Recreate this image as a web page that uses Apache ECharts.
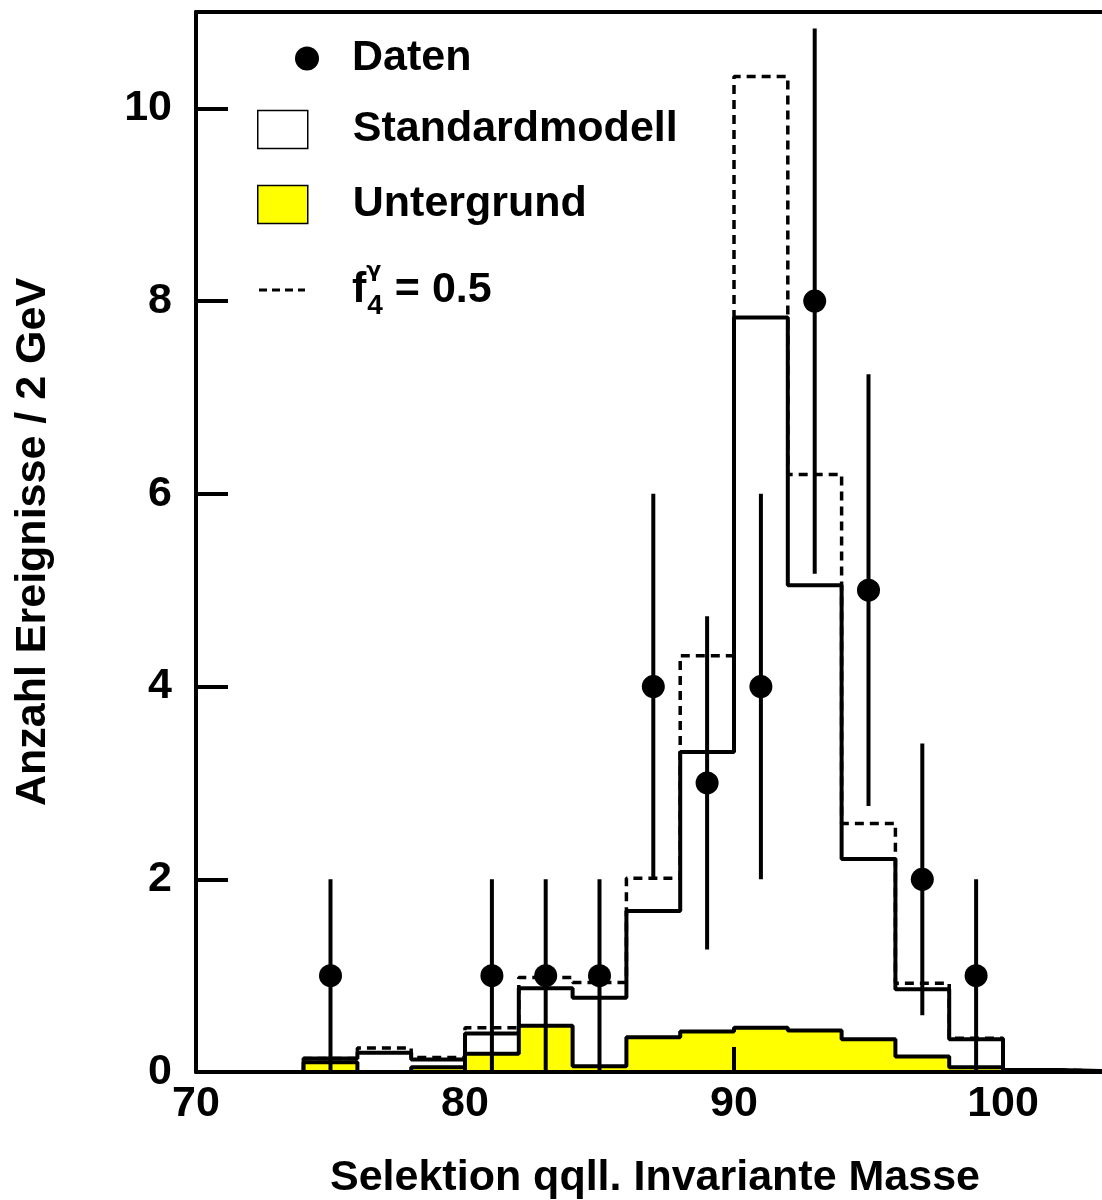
<!DOCTYPE html>
<html>
<head>
<meta charset="utf-8">
<script src="https://cdn.jsdelivr.net/npm/echarts@6/dist/echarts.min.js"></script>
<style>
  html, body { margin: 0; background: #fff; }
  #chart { width: 1102px; height: 1200px; }
</style>
</head>
<body>
<div id="chart"></div>
<script>
// bin edges in GeV (2 GeV bins)
const binEdges = [70, 72, 74, 76, 78, 80, 82, 84, 86, 88, 90, 92, 94, 96, 98, 100, 102, 104];
// Standardmodell (solid), f4 = 0.5 (dashed), Untergrund (yellow)
const smValues  = [0, 0, 0.14, 0.20, 0.13, 0.40, 0.87, 0.77, 1.67, 3.32, 7.83, 5.05, 2.21, 0.86, 0.34, 0.02, 0.01];
const f4Values  = [0, 0, 0.14, 0.25, 0.15, 0.46, 0.98, 0.93, 2.01, 4.32, 10.33, 6.20, 2.58, 0.92, 0.35, 0.02, 0.01];
const bkgValues = [0, 0, 0.10, 0, 0.05, 0.19, 0.48, 0.06, 0.36, 0.42, 0.46, 0.43, 0.34, 0.16, 0.05, 0, 0];
// Daten
const dataX   = [75, 81, 83, 85, 87, 89, 91, 93, 95, 97, 99];
const dataY   = [1, 1, 1, 1, 4, 3, 4, 8, 5, 2, 1];
const errLow  = [0, 0, 0, 0, 2, 1.27, 2, 5.17, 2.76, 0.59, 0];
const errHigh = [2, 2, 2, 2, 6, 4.73, 6, 10.83, 7.24, 3.41, 2];
// tick labels
const xTicks = [70, 80, 90, 100];
const yTicks = [0, 2, 4, 6, 8, 10];

const FONT = 'Liberation Sans';
const FS = 43;

function stepData(vals) {
  return binEdges.map((e, i) => [e, vals[Math.min(i, vals.length - 1)]]);
}

const chart = echarts.init(document.getElementById('chart'));

const legendCommon = {
  orient: 'vertical',
  padding: 0,
  selectedMode: false,
  textStyle: { fontFamily: FONT, fontWeight: 'bold', fontSize: FS, color: '#000' }
};

function plainRich(pad) {
  return Object.assign({}, legendCommon.textStyle, {
    rich: { t: { fontFamily: FONT, fontWeight: 'bold', fontSize: FS, padding: [0, 0, 0, pad] } }
  });
}

chart.setOption({
  animation: false,
  backgroundColor: '#fff',
  textStyle: { fontFamily: FONT, fontWeight: 'bold' },
  grid: { left: 196, right: 0, top: 12, bottom: 128, containLabel: false, outerBoundsMode: 'none' },
  legend: [
    Object.assign({}, legendCommon, {
      left: 295, top: 37, itemWidth: 24, itemHeight: 24,
      itemStyle: { color: '#000', opacity: 1 },
      data: [{ name: 'Daten', icon: 'circle' }],
      formatter: n => '{t|' + n + '}',
      textStyle: plainRich(28)
    }),
    Object.assign({}, legendCommon, {
      left: 257, top: 108, itemWidth: 50, itemHeight: 38,
      itemStyle: { color: '#fff', borderColor: '#000', borderWidth: 1.5 },
      data: [{ name: 'Standardmodell', icon: 'rect', itemStyle: { color: '#fff', borderColor: '#000', borderWidth: 1.5 } }],
      formatter: n => '{t|' + n + '}',
      textStyle: plainRich(40)
    }),
    Object.assign({}, legendCommon, {
      left: 257, top: 183, itemWidth: 50, itemHeight: 38,
      itemStyle: { color: '#ffff00', borderColor: '#000', borderWidth: 1.5 },
      data: [{ name: 'Untergrund', icon: 'rect', itemStyle: { color: '#ffff00', borderColor: '#000', borderWidth: 1.5 } }],
      formatter: n => '{t|' + n + '}',
      textStyle: plainRich(40)
    }),
    Object.assign({}, legendCommon, {
      left: 259, top: 260, itemWidth: 46, itemHeight: 4,
      itemStyle: { color: '#000', borderWidth: 0 },
      data: [{ name: 'f4', icon: 'path://M0,0h8v3h-8z M13,0h8v3h-8z M26,0h8v3h-8z M39,0h7v3h-7z' }],
      formatter: () => '{f|f}{g|γ}{s|4}{e| = 0.5}',
      textStyle: Object.assign({}, legendCommon.textStyle, {
        rich: {
          f: { fontFamily: FONT, fontWeight: 'bold', fontSize: FS, lineHeight: 60, padding: [0, 0, 0, 42], verticalAlign: 'middle' },
          g: { fontFamily: 'DejaVu Sans', fontWeight: 'bold', fontSize: 22, width: 1, verticalAlign: 'top' },
          s: { fontFamily: FONT, fontWeight: 'bold', fontSize: 28, verticalAlign: 'bottom' },
          e: { fontFamily: FONT, fontWeight: 'bold', fontSize: FS, verticalAlign: 'middle' }
        }
      })
    })
  ],
  xAxis: [
    {
      type: 'value',
      z: 10,
      min: 70, max: 103.68, interval: 10,
      name: 'Selektion qqll. Invariante Masse',
      nameLocation: 'middle',
      nameGap: 85,
      nameTextStyle: { fontFamily: FONT, fontWeight: 'bold', fontSize: FS, color: '#000', padding: [0, 0, 0, 12] },
      axisLine: { show: true, onZero: false, lineStyle: { color: '#000', width: 4 } },
      axisTick: { show: true, inside: true, length: 25, customValues: xTicks, lineStyle: { color: '#000', width: 4 } },
      axisLabel: {
        color: '#000', fontSize: FS, fontWeight: 'bold', fontFamily: FONT, margin: 11,
        customValues: xTicks,
        formatter: v => (xTicks.includes(v) ? String(v) : '')
      },
      splitLine: { show: false }
    },
    {
      // top frame line
      type: 'value',
      position: 'top',
      min: 70, max: 103.68,
      axisLine: { show: true, onZero: false, lineStyle: { color: '#000', width: 4 } },
      axisTick: { show: false },
      axisLabel: { show: false },
      splitLine: { show: false }
    }
  ],
  yAxis: {
    type: 'value',
    min: 0, max: 11, interval: 2,
    name: 'Anzahl Ereignisse / 2 GeV',
    nameLocation: 'middle',
    nameGap: 141,
    nameTextStyle: { fontFamily: FONT, fontWeight: 'bold', fontSize: FS, color: '#000' },
    axisLine: { show: true, lineStyle: { color: '#000', width: 4 } },
    axisTick: { show: true, inside: true, length: 32, customValues: yTicks, lineStyle: { color: '#000', width: 4 } },
    axisLabel: {
      color: '#000', fontSize: FS, fontWeight: 'bold', fontFamily: FONT, margin: 24,
      customValues: yTicks,
      formatter: v => (yTicks.includes(v) ? String(v) : '')
    },
    splitLine: { show: false }
  },
  series: [
    {
      name: 'f4',
      type: 'line',
      step: 'end',
      z: 2,
      symbol: 'none',
      data: stepData(f4Values),
      itemStyle: { color: '#000' },
      lineStyle: { color: '#000', width: 3.5, type: [9, 6] }
    },
    {
      name: 'Standardmodell',
      type: 'line',
      step: 'end',
      z: 3,
      symbol: 'none',
      data: stepData(smValues),
      itemStyle: { color: '#fff', borderColor: '#000' },
      lineStyle: { color: '#000', width: 4 }
    },
    {
      name: 'Untergrund',
      type: 'line',
      step: 'end',
      z: 4,
      symbol: 'none',
      data: stepData(bkgValues),
      itemStyle: { color: '#ffff00' },
      lineStyle: { color: '#000', width: 4 },
      areaStyle: { color: '#ffff00', opacity: 1 }
    },
    {
      name: 'Fehler',
      type: 'custom',
      z: 5,
      data: dataX.map((x, i) => [x, errLow[i], errHigh[i]]),
      encode: { x: 0, y: [1, 2] },
      renderItem: (params, api) => {
        const p1 = api.coord([api.value(0), api.value(1)]);
        const p2 = api.coord([api.value(0), api.value(2)]);
        return {
          type: 'line',
          shape: { x1: p1[0], y1: p1[1], x2: p2[0], y2: p2[1] },
          style: { stroke: '#000', lineWidth: 4 }
        };
      }
    },
    {
      name: 'Daten',
      type: 'scatter',
      z: 6,
      symbol: 'circle',
      symbolSize: 23,
      itemStyle: { color: '#000', opacity: 1 },
      data: dataX.map((x, i) => [x, dataY[i]])
    }
  ]
});
</script>
</body>
</html>
